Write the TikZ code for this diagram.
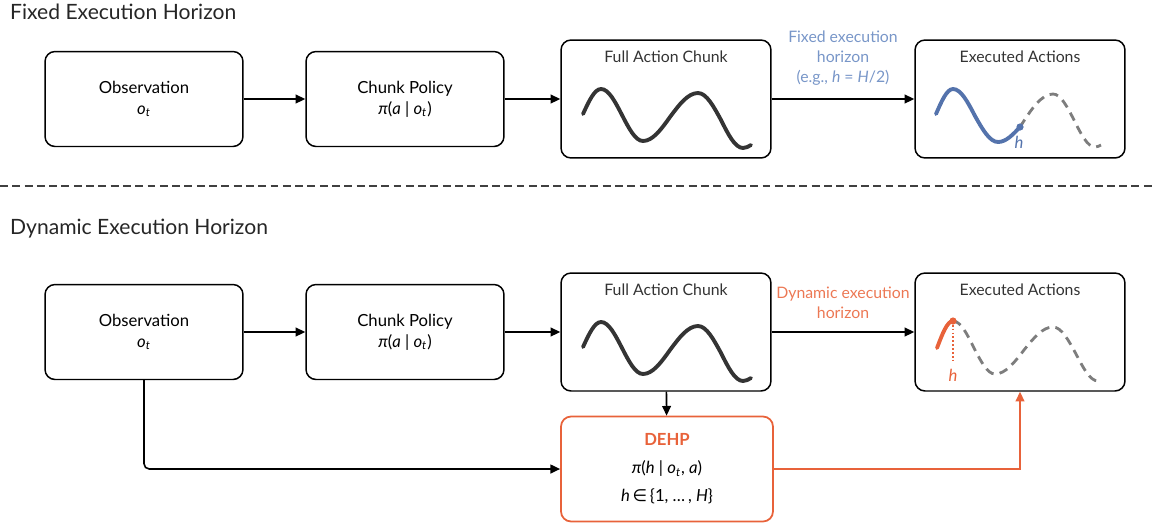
\documentclass[tikz,border=0pt]{standalone}
\usepackage{fontspec}
\setmainfont{Lato}
\newfontfamily\symfont{DejaVu Sans}
\usetikzlibrary{arrows.meta,positioning}

\definecolor{wavegray}{RGB}{52,52,52}
\definecolor{dashgray}{RGB}{125,125,125}
\definecolor{fixblue}{RGB}{84,115,172}
\definecolor{fixlabel}{RGB}{120,150,200}
\definecolor{dynorange}{RGB}{232,98,58}
\definecolor{dynlabel}{RGB}{236,120,84}

\newcommand{\ot}{\textit{o}\textsubscript{\textit{t}}}

\begin{document}
\begin{tikzpicture}[x=0.02cm, y=-0.02cm,
    box/.style={rectangle, draw, line width=0.85pt, rounded corners=0.2cm, minimum width=3.96cm, minimum height=1.9cm, align=center, font=\fontsize{9.5}{12}\selectfont},
    bigbox/.style={box, minimum width=4.2cm, minimum height=2.36cm},
    boxtitle/.style={font=\fontsize{9}{10}\selectfont, text=black!80},
    heading/.style={anchor=west, font=\fontsize{12}{14}\selectfont, text=black!85},
    arrow/.style={-{Triangle[length=5.5pt,width=5pt]}, line width=0.9pt},
    wave/.style={line width=2.2pt, line cap=round, wavegray},
    ghost/.style={line width=1.6pt, dashgray, dash pattern=on 5pt off 3.5pt}
  ]
  \useasboundingbox (0,0) rectangle (1156,525);

  % Fixed execution horizon
  \node[heading] (headA) at (4,12) {Fixed Execution Horizon};

  \node[box] (obsA) at (144,99) {Observation\\\ot};
  \node[box] (policyA) at (405,99) {Chunk Policy\\\textit{π}(\textit{a} | \ot)};
  \node[bigbox] (chunkA) at (666,99) {};
  \node[boxtitle] (chunkAt) at (666,57) {Full Action Chunk};
  \node[bigbox] (execA) at (1020,99) {};
  \node[boxtitle] (execAt) at (1020,57) {Executed Actions};

  \draw[arrow] (obsA) -- (policyA);
  \draw[arrow] (policyA) -- (chunkA);
  \draw[arrow] (chunkA) -- (execA);
  \node[align=center, text=fixlabel, font=\fontsize{9}{11.3}\selectfont] (fixlab) at (843,58)
    {Fixed execution\\horizon\\(e.g., \textit{h} = \textit{H}/2)};

  \draw[wave] (583,114) sin (601,89) cos (622,115) sin (643,141) cos (670,117) sin (698,93) cos (721,120) sin (743,148) cos (751,145);

  \draw[ghost] (1020,127) sin (1053,94) cos (1074,120) sin (1095,147) cos (1101,145);
  \draw[line width=2.2pt, line cap=round, fixblue] (936,114) sin (953,89) cos (975,116) sin (998,142) cos (1020,127);
  \fill[fixblue] (1020,127) circle (3.6);
  \node[text=fixblue, font=\fontsize{9.5}{10}\selectfont\itshape] (hA) at (1019,142) {h};

  % separator
  \draw[black!75, line width=0.6pt, dash pattern=on 4.5pt off 2.5pt] (0,186) -- (1156,186);

  % Dynamic execution horizon
  \node[heading] (headB) at (4,229) {Dynamic Execution Horizon};

  \node[box] (obsB) at (144,332) {Observation\\\ot};
  \node[box] (policyB) at (405,332) {Chunk Policy\\\textit{π}(\textit{a} | \ot)};
  \node[bigbox] (chunkB) at (666,332) {};
  \node[boxtitle] (chunkBt) at (666,290) {Full Action Chunk};
  \node[bigbox] (execB) at (1020,332) {};
  \node[boxtitle] (execBt) at (1020,290) {Executed Actions};
  \node[box, draw=dynorange, line width=1pt, minimum width=4.24cm, minimum height=2.1cm] (dehp) at (667,469)
    {{\bfseries\color{dynorange}DEHP}\\[4pt]\textit{π}(\textit{h} | \ot, \textit{a})\\[4pt]\textit{h}\,{\symfont ∈}\,\{1, …\,, \textit{H}\}};

  \draw[arrow] (obsB) -- (policyB);
  \draw[arrow] (policyB) -- (chunkB);
  \draw[arrow] (chunkB) -- (execB);
  \draw[arrow] (chunkB) -- (dehp);
  \draw[arrow, rounded corners=3pt] (obsB.south) |- (dehp.west);
  \draw[arrow, dynorange] (dehp.east) -| (execB.south);
  \node[align=center, text=dynlabel, font=\fontsize{9}{11.3}\selectfont] (dynlab) at (843,303)
    {Dynamic execution\\horizon};

  \draw[wave] (583,347) sin (601,322) cos (622,348) sin (643,374) cos (670,350) sin (698,326) cos (721,353) sin (743,381) cos (751,378);

  \draw[ghost] (953,321) cos (974,348) sin (995,374) cos (1024,350) sin (1053,327) cos (1076,354) sin (1098,381);
  \draw[line width=2.2pt, line cap=round, dynorange] (937,348) sin (953,321);
  \draw[dynorange, line width=0.7pt, dash pattern=on 1pt off 1.2pt] (953,321) -- (953,362);
  \fill[dynorange] (953,321) circle (3.6);
  \node[text=dynorange, font=\fontsize{9.5}{10}\selectfont\itshape] (hB) at (953,375) {h};
\end{tikzpicture}
\end{document}
